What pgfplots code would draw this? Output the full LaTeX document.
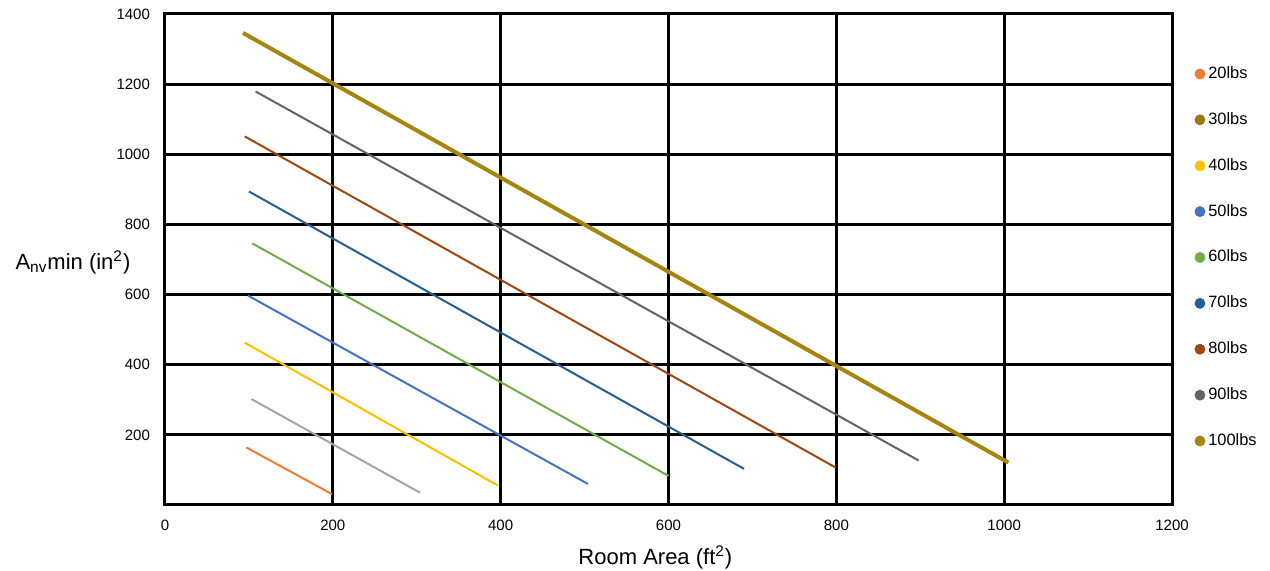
\documentclass[border=0pt]{standalone}
\usepackage{fontspec}
\setmainfont{Liberation Sans}
\usepackage{pgfplots}
\pgfplotsset{compat=1.18}
\definecolor{c20}{HTML}{ED7D31}
\definecolor{c30}{HTML}{A5A5A5}
\definecolor{c30leg}{HTML}{9A7A10}
\definecolor{c40}{HTML}{FFC000}
\definecolor{c50}{HTML}{4472C4}
\definecolor{c60}{HTML}{70AD47}
\definecolor{c70}{HTML}{255E91}
\definecolor{c80}{HTML}{9E480E}
\definecolor{c90}{HTML}{636363}
\definecolor{c100}{HTML}{A5840F}
\begin{document}
\begin{tikzpicture}
\useasboundingbox (-82.5pt,-33pt) rectangle (552.5pt,252.5pt);
\begin{axis}[
  at={(0pt,0pt)}, anchor=south west,
  scale only axis, width=503.5pt, height=245.5pt,
  clip=false,
  xmin=0, xmax=1200, ymin=0, ymax=1400,
  xtick={0,200,...,1200}, ytick={200,400,...,1400},
  grid=major, major grid style={black, line width=1.5pt},
  axis line style={black, line width=1.5pt},
  major tick length=0pt,
  tick label style={font=\fontsize{7.5}{9}\selectfont},
  /pgf/number format/assume math mode=true,
  /pgf/number format/1000 sep={},
  yticklabel style={xshift=-4pt},
  xticklabel style={yshift=-4pt},
  legend image code/.code={\fill (0pt,0pt) circle (2.5pt);},
  legend style={at={(axis description cs:1.022,0.90)}, anchor=north west,
    draw=none, fill=none, font=\fontsize{8.2}{9.8}\selectfont,
    row sep=12.5pt, inner sep=0pt, nodes={inner sep=1.5pt}},
  legend cell align=left,
]
\addplot[forget plot, c20, line width=1pt] coordinates {(97,164) (199,31)};
\addplot[forget plot, c30, line width=1pt] coordinates {(103,302) (304,35)};
\addplot[forget plot, c40, line width=1pt] coordinates {(95,463) (397,55)};
\addplot[forget plot, c50, line width=1pt] coordinates {(99,597) (504,60)};
\addplot[forget plot, c60, line width=1pt] coordinates {(104,746) (600,83)};
\addplot[forget plot, c70, line width=1pt] coordinates {(100,894) (690,103)};
\addplot[forget plot, c80, line width=1pt] coordinates {(95,1051) (799,107)};
\addplot[forget plot, c90, line width=1pt] coordinates {(108,1179) (898,127)};
\addplot[forget plot, c100, line width=2pt] coordinates {(93,1346) (1005,121)};
\addlegendimage{color=c20}\addlegendentry{20lbs}
\addlegendimage{color=c30leg}\addlegendentry{30lbs}
\addlegendimage{color=c40}\addlegendentry{40lbs}
\addlegendimage{color=c50}\addlegendentry{50lbs}
\addlegendimage{color=c60}\addlegendentry{60lbs}
\addlegendimage{color=c70}\addlegendentry{70lbs}
\addlegendimage{color=c80}\addlegendentry{80lbs}
\addlegendimage{color=c90}\addlegendentry{90lbs}
\addlegendimage{color=c100}\addlegendentry{100lbs}
\node[font=\fontsize{11}{13}\selectfont] at (axis description cs:-0.0914,0.495) {A\textsubscript{nv}min (in\textsuperscript{2})};
\node[font=\fontsize{11}{13}\selectfont] at (axis description cs:0.487,-0.106) {Room Area (ft\textsuperscript{2})};
\end{axis}
\end{tikzpicture}
\end{document}
